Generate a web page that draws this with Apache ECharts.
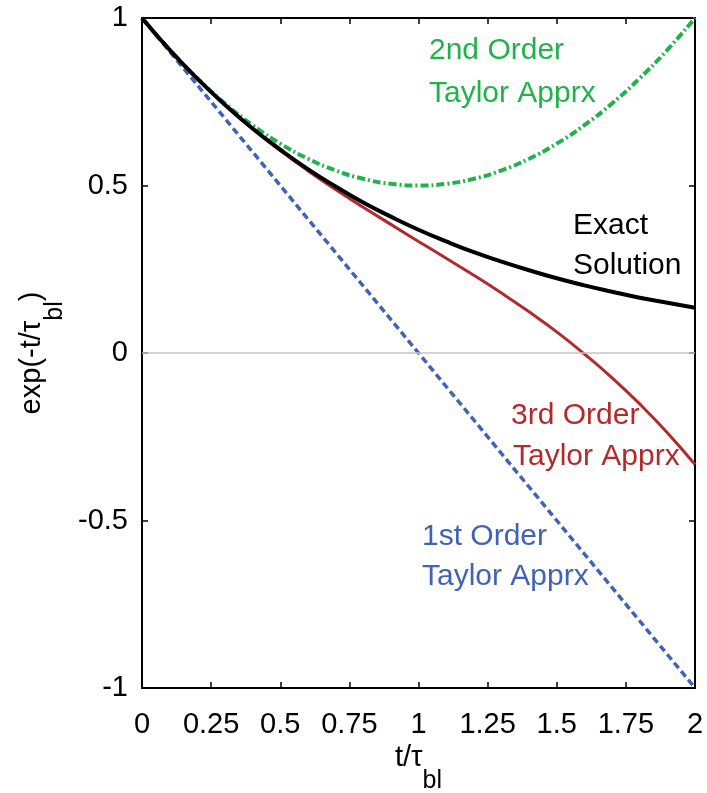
<!DOCTYPE html>
<html>
<head>
<meta charset="utf-8">
<script src="https://cdn.jsdelivr.net/npm/echarts@6/dist/echarts.min.js"></script>
<style>html,body{margin:0;padding:0;background:#fff;}#c{width:707px;height:793px;}</style>
</head>
<body>
<div id="c"></div>
<script>
// x values t/tau_bl
const tValues = [0,0.1,0.2,0.3,0.4,0.5,0.6,0.7,0.8,0.9,1.0,1.1,1.2,1.3,1.4,1.5,1.6,1.7,1.8,1.9,2.0];
// Exact solution
const exactValues = [1,0.905,0.819,0.741,0.670,0.607,0.549,0.497,0.449,0.407,0.368,0.333,0.301,0.273,0.247,0.223,0.202,0.183,0.165,0.150,0.135];
// 1st order Taylor
const firstValues = [1,0.9,0.8,0.7,0.6,0.5,0.4,0.3,0.2,0.1,0,-0.1,-0.2,-0.3,-0.4,-0.5,-0.6,-0.7,-0.8,-0.9,-1];
// 2nd order Taylor
const secondValues = [1,0.905,0.82,0.745,0.68,0.625,0.58,0.545,0.52,0.505,0.5,0.505,0.52,0.545,0.58,0.625,0.68,0.745,0.82,0.905,1];
// 3rd order Taylor
const thirdValues = [1,0.905,0.819,0.741,0.669,0.604,0.544,0.488,0.435,0.384,0.333,0.283,0.232,0.179,0.123,0.063,-0.003,-0.074,-0.152,-0.238,-0.333];

const xTicks = {min:0, max:2, interval:0.25};
const yTicks = {min:-1, max:1, interval:0.5};

const FONT = "'Liberation Sans', Arial, Helvetica, sans-serif";
const C_EXACT = '#000000', C_FIRST = '#4163b7', C_SECOND = '#22b24c', C_THIRD = '#b22a2d';

function pairs(vals){ return tValues.map((t,i)=>[t, vals[i]]); }

const chart = echarts.init(document.getElementById('c'));
const axisCommon = {
  axisLine:{show:true, onZero:false, lineStyle:{color:'#000', width:2}},
  axisTick:{show:true, inside:true, length:6, lineStyle:{color:'#000', width:1.5}},
  splitLine:{show:false}
};
const nameRich = {
  a:{fontFamily:FONT, fontSize:29, color:'#000', lineHeight:30, verticalAlign:'top'},
  b:{fontFamily:FONT, fontSize:25, color:'#000', lineHeight:50, verticalAlign:'bottom'}
};
chart.setOption({
  animation:false,
  backgroundColor:'#fff',
  grid:{left:142, right:12, top:18, bottom:105, containLabel:false, outerBoundsMode:'none'},
  xAxis:[
    Object.assign({type:'value', min:xTicks.min, max:xTicks.max, interval:xTicks.interval, position:'bottom',
      axisLabel:{fontFamily:FONT, fontSize:29, color:'#000', margin:22},
      name:'{a|t/τ}{b|bl}', nameLocation:'middle', nameGap:47,
      nameTextStyle:{rich:nameRich}}, axisCommon),
    Object.assign({type:'value', min:xTicks.min, max:xTicks.max, interval:xTicks.interval, position:'top',
      axisLabel:{show:false}}, axisCommon)
  ],
  yAxis:[
    Object.assign({type:'value', min:yTicks.min, max:yTicks.max, interval:yTicks.interval, position:'left',
      axisLabel:{fontFamily:FONT, fontSize:29, color:'#000', margin:14},
      name:'{a|exp(-t/τ}{b|bl}{a|)}', nameLocation:'middle', nameGap:60,
      nameTextStyle:{rich:nameRich}}, axisCommon),
    Object.assign({type:'value', min:yTicks.min, max:yTicks.max, interval:yTicks.interval, position:'right',
      axisLabel:{show:false}}, axisCommon)
  ],
  series:[
    {type:'line', name:'zero', data:[], silent:true,
      markLine:{silent:true, symbol:['none','none'], label:{show:false},
        lineStyle:{color:'#c4c4c4', width:1.5, type:'solid'}, data:[{yAxis:0}]}, z:1},
    {type:'line', name:'2nd', data:pairs(secondValues), smooth:true, showSymbol:false,
      lineStyle:{color:C_SECOND, width:4, type:[8,3,2,3]}, z:2},
    {type:'line', name:'3rd', data:pairs(thirdValues), smooth:true, showSymbol:false,
      lineStyle:{color:C_THIRD, width:3}, z:3},
    {type:'line', name:'1st', data:pairs(firstValues), showSymbol:false,
      lineStyle:{color:C_FIRST, width:3.5, type:[7,4]}, z:4},
    {type:'line', name:'exact', data:pairs(exactValues), smooth:true, showSymbol:false,
      lineStyle:{color:C_EXACT, width:4}, z:5}
  ],
  graphic:[
    {type:'text', x:429, y:51, style:{text:'2nd Order', fill:C_SECOND, font:'30px '+FONT, verticalAlign:'middle', textVerticalAlign:'middle'}},
    {type:'text', x:429, y:94, style:{text:'Taylor Apprx', fill:C_SECOND, font:'30px '+FONT, verticalAlign:'middle', textVerticalAlign:'middle'}},
    {type:'text', x:573, y:226, style:{text:'Exact', fill:C_EXACT, font:'30px '+FONT, verticalAlign:'middle', textVerticalAlign:'middle'}},
    {type:'text', x:573, y:266, style:{text:'Solution', fill:C_EXACT, font:'30px '+FONT, verticalAlign:'middle', textVerticalAlign:'middle'}},
    {type:'text', x:511, y:416, style:{text:'3rd Order', fill:C_THIRD, font:'30px '+FONT, verticalAlign:'middle', textVerticalAlign:'middle'}},
    {type:'text', x:513, y:457, style:{text:'Taylor Apprx', fill:C_THIRD, font:'30px '+FONT, verticalAlign:'middle', textVerticalAlign:'middle'}},
    {type:'text', x:422, y:537, style:{text:'1st Order', fill:C_FIRST, font:'30px '+FONT, verticalAlign:'middle', textVerticalAlign:'middle'}},
    {type:'text', x:422, y:577, style:{text:'Taylor Apprx', fill:C_FIRST, font:'30px '+FONT, verticalAlign:'middle', textVerticalAlign:'middle'}}
  ]
});
</script>
</body>
</html>
